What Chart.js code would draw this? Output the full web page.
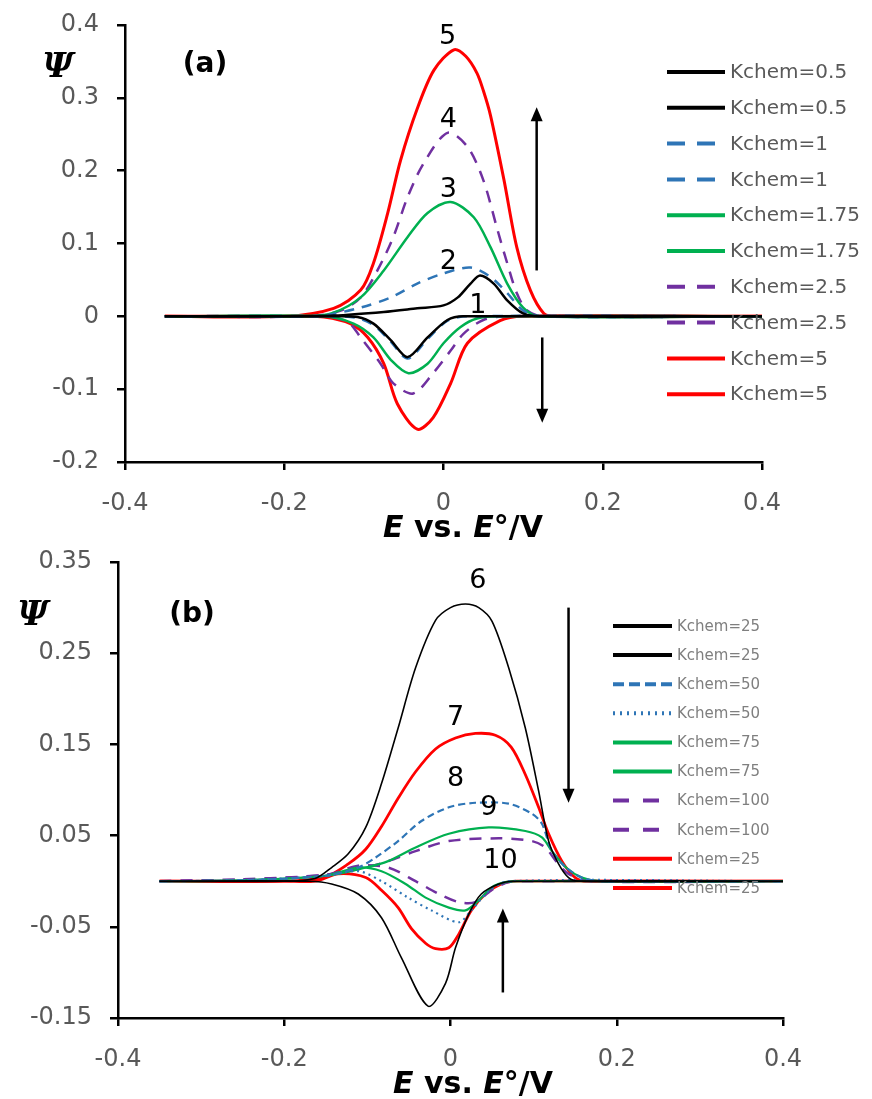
<!DOCTYPE html>
<html>
<head>
<meta charset="utf-8">
<script src="https://cdn.jsdelivr.net/npm/chart.js@4.4.1/dist/chart.umd.min.js"></script>
<style>
  body { margin: 0; background: #fff; }
  canvas { position: absolute; left: 0; }
  #chartA { top: 0; }
  #chartB { top: 540px; }
</style>
</head>
<body>
<canvas id="chartA" width="872" height="540"></canvas>
<canvas id="chartB" width="872" height="559"></canvas>
<script>
// ---- panel (a) data: E vs E°/V and Psi, forward and reverse scan for each Kchem
var a05fE = [-0.35, -0.2, -0.138, -0.075, -0.033, 0, 0.018, 0.034, 0.046, 0.063, 0.08, 0.1, 0.12, 0.4];
var a05fPsi = [0, 0, 0.001, 0.006, 0.011, 0.015, 0.026, 0.045, 0.056, 0.045, 0.022, 0.004, 0, 0];
var a05rE = [-0.35, -0.14, -0.108, -0.088, -0.066, -0.045, -0.02, 0.005, 0.025, 0.4];
var a05rPsi = [0, 0, -0.001, -0.01, -0.033, -0.056, -0.029, -0.005, 0, 0];

var a1fE = [-0.35, -0.16, -0.14, -0.104, -0.066, -0.033, 0, 0.034, 0.059, 0.08, 0.1, 0.12, 0.4];
var a1fPsi = [0, 0, 0.003, 0.012, 0.026, 0.045, 0.059, 0.067, 0.054, 0.032, 0.008, 0, 0];
var a1rE = [-0.35, -0.14, -0.11, -0.088, -0.066, -0.045, -0.02, 0.005, 0.03, 0.4];
var a1rPsi = [0, 0, -0.002, -0.012, -0.035, -0.058, -0.031, -0.006, 0, 0];

var a175fE = [-0.35, -0.17, -0.138, -0.104, -0.075, -0.045, -0.02, 0.009, 0.038, 0.059, 0.08, 0.1, 0.12, 0.4];
var a175fPsi = [0, 0, 0.005, 0.026, 0.063, 0.109, 0.142, 0.157, 0.136, 0.095, 0.045, 0.012, 0, 0];
var a175rE = [-0.35, -0.15, -0.113, -0.088, -0.066, -0.044, -0.02, 0, 0.021, 0.042, 0.07, 0.4];
var a175rPsi = [0, 0, -0.01, -0.029, -0.06, -0.078, -0.065, -0.037, -0.015, -0.003, 0, 0];

var a25fE = [-0.35, -0.17, -0.129, -0.104, -0.083, -0.063, -0.045, -0.025, 0.005, 0.03, 0.05, 0.068, 0.08, 0.092, 0.105, 0.125, 0.4];
var a25fPsi = [0, 0, 0.008, 0.026, 0.063, 0.109, 0.164, 0.21, 0.252, 0.233, 0.187, 0.118, 0.073, 0.032, 0.008, 0, 0];
var a25rE = [-0.35, -0.15, -0.12, -0.104, -0.079, -0.063, -0.038, -0.013, 0.009, 0.025, 0.05, 0.08, 0.4];
var a25rPsi = [0, 0, -0.008, -0.029, -0.065, -0.092, -0.106, -0.078, -0.047, -0.024, -0.005, 0, 0];

var a5fE = [-0.35, -0.2, -0.138, -0.104, -0.088, -0.07, -0.054, -0.033, -0.012, 0.013, 0.028, 0.042, 0.05, 0.059, 0.076, 0.092, 0.109, 0.126, 0.14, 0.4];
var a5fPsi = [0, 0, 0.011, 0.036, 0.073, 0.142, 0.214, 0.285, 0.338, 0.366, 0.357, 0.334, 0.31, 0.276, 0.187, 0.095, 0.036, 0.004, 0, 0];
var a5rE = [-0.35, -0.18, -0.15, -0.117, -0.095, -0.075, -0.058, -0.033, -0.013, 0.009, 0.03, 0.071, 0.1, 0.4];
var a5rPsi = [0, 0, -0.001, -0.01, -0.029, -0.065, -0.12, -0.155, -0.139, -0.092, -0.037, -0.006, 0, 0];

var labelsA = ['Kchem=0.5', 'Kchem=0.5', 'Kchem=1', 'Kchem=1', 'Kchem=1.75', 'Kchem=1.75', 'Kchem=2.5', 'Kchem=2.5', 'Kchem=5', 'Kchem=5'];

// ---- panel (b) data
var b25fE = [-0.35, -0.2, -0.163, -0.143, -0.123, -0.102, -0.083, -0.063, -0.042, -0.018, 0, 0.018, 0.034, 0.05, 0.07, 0.09, 0.106, 0.118, 0.13, 0.142, 0.155, 0.4];
var b25fPsi = [0, 0, 0.003, 0.015, 0.03, 0.059, 0.107, 0.168, 0.234, 0.286, 0.3, 0.304, 0.3, 0.285, 0.234, 0.168, 0.099, 0.044, 0.019, 0.004, 0, 0];
var b25rE = [-0.35, -0.17, -0.143, -0.111, -0.083, -0.059, -0.027, -0.006, 0.006, 0.022, 0.037, 0.058, 0.075, 0.4];
var b25rPsi = [0, 0, -0.003, -0.014, -0.04, -0.084, -0.137, -0.112, -0.073, -0.036, -0.014, -0.003, 0, 0];

var b50fE = [-0.35, -0.25, -0.15, -0.111, -0.09, -0.063, -0.035, -0.002, 0.03, 0.07, 0.098, 0.11, 0.122, 0.139, 0.158, 0.18, 0.4];
var b50fPsi = [0, 0.001, 0.006, 0.015, 0.026, 0.044, 0.066, 0.081, 0.086, 0.085, 0.074, 0.063, 0.033, 0.015, 0.004, 0, 0];
var b50rE = [-0.35, -0.25, -0.15, -0.111, -0.083, -0.051, -0.023, 0.01, 0.025, 0.046, 0.07, 0.4];
var b50rPsi = [0, 0.001, 0.006, 0.011, 0, -0.018, -0.032, -0.045, -0.032, -0.011, 0, 0];

var b75fE = [-0.35, -0.25, -0.15, -0.102, -0.075, -0.042, -0.002, 0.046, 0.09, 0.11, 0.122, 0.139, 0.158, 0.18, 0.4];
var b75fPsi = [0, 0.001, 0.006, 0.015, 0.022, 0.037, 0.052, 0.059, 0.055, 0.048, 0.033, 0.015, 0.004, 0, 0];
var b75rE = [-0.35, -0.25, -0.15, -0.111, -0.083, -0.054, -0.03, -0.002, 0.018, 0.034, 0.049, 0.066, 0.09, 0.4];
var b75rPsi = [0, 0.001, 0.006, 0.015, 0.011, -0.003, -0.018, -0.029, -0.032, -0.021, -0.007, -0.001, 0, 0];

var b100fE = [-0.35, -0.25, -0.15, -0.102, -0.075, -0.042, -0.002, 0.058, 0.098, 0.114, 0.127, 0.142, 0.17, 0.4];
var b100fPsi = [0, 0.002, 0.007, 0.015, 0.022, 0.033, 0.044, 0.047, 0.044, 0.037, 0.022, 0.008, 0, 0];
var b100rE = [-0.35, -0.25, -0.15, -0.111, -0.075, -0.042, -0.014, 0.01, 0.03, 0.049, 0.07, 0.09, 0.4];
var b100rPsi = [0, 0.002, 0.007, 0.017, 0.015, 0, -0.014, -0.023, -0.023, -0.01, -0.001, 0, 0];

var b25redfE = [-0.35, -0.2, -0.15, -0.123, -0.102, -0.083, -0.063, -0.042, -0.018, 0.006, 0.03, 0.054, 0.073, 0.09, 0.106, 0.118, 0.134, 0.15, 0.165, 0.4];
var b25redfPsi = [0, 0, 0.005, 0.019, 0.035, 0.06, 0.091, 0.12, 0.145, 0.157, 0.162, 0.16, 0.147, 0.117, 0.081, 0.052, 0.022, 0.004, 0, 0];
var b25redrE = [-0.35, -0.2, -0.163, -0.135, -0.102, -0.083, -0.063, -0.047, -0.03, -0.018, -0.002, 0.01, 0.025, 0.042, 0.061, 0.08, 0.4];
var b25redrPsi = [0, 0, 0, 0.008, 0.004, -0.01, -0.029, -0.052, -0.068, -0.074, -0.073, -0.058, -0.032, -0.014, -0.003, 0, 0];

var labelsB = ['Kchem=25', 'Kchem=25', 'Kchem=50', 'Kchem=50', 'Kchem=75', 'Kchem=75', 'Kchem=100', 'Kchem=100', 'Kchem=25', 'Kchem=25'];

// axis ticks
var xTicks = [-0.4, -0.2, 0, 0.2, 0.4];
var yTicksA = [-0.2, -0.1, 0, 0.1, 0.2, 0.3, 0.4];
var yTicksB = [-0.15, -0.05, 0.05, 0.15, 0.25, 0.35];

// curve numbers (1..10) and arrows, placed in data units
var curveNumsA = [['5', 0.005, 0.384], ['4', 0.006, 0.27], ['3', 0.006, 0.173], ['2', 0.006, 0.074], ['1', 0.043, 0.014]];
var curveNumsB = [['6', 0.033, 0.329], ['7', 0.006, 0.179], ['8', 0.006, 0.112], ['9', 0.046, 0.08], ['10', 0.06, 0.022]];
var arrowsA = [[0.117, 0.063, 0.287], [0.124, -0.029, -0.146]];   // x, from y, to y (head at "to")
var arrowsB = [[0.142, 0.30, 0.086], [0.063, -0.122, -0.030]];

var RED = '#ff0000', GREEN = '#00b050', PURPLE = '#7030a0', BLUE = '#2e75b6', BLACK = '#000000';

function pts(xs, ys) {
  var out = [];
  for (var i = 0; i < xs.length; i++) out.push({x: xs[i], y: ys[i]});
  return out;
}

function ds(label, xs, ys, color, width, dash, legDash) {
  return {
    label: label,
    data: pts(xs, ys),
    borderColor: color,
    backgroundColor: color,
    borderWidth: width,
    borderDash: dash || [],
    legendDash: legDash || [],
    showLine: true,
    pointRadius: 0,
    tension: 0.3,
    fill: false
  };
}

var dsA = [
  ds(labelsA[0], a05fE, a05fPsi, BLACK, 2.5),
  ds(labelsA[1], a05rE, a05rPsi, BLACK, 2.5),
  ds(labelsA[2], a1fE, a1fPsi, BLUE, 2.5, [10, 8], [18, 12]),
  ds(labelsA[3], a1rE, a1rPsi, BLUE, 2.5, [10, 8], [18, 12]),
  ds(labelsA[4], a175fE, a175fPsi, GREEN, 2.5),
  ds(labelsA[5], a175rE, a175rPsi, GREEN, 2.5),
  ds(labelsA[6], a25fE, a25fPsi, PURPLE, 2.5, [12, 9], [18, 12]),
  ds(labelsA[7], a25rE, a25rPsi, PURPLE, 2.5, [12, 9], [18, 12]),
  ds(labelsA[8], a5fE, a5fPsi, RED, 3),
  ds(labelsA[9], a5rE, a5rPsi, RED, 3)
];

var dsB = [
  ds(labelsB[0], b25fE, b25fPsi, BLACK, 1.6),
  ds(labelsB[1], b25rE, b25rPsi, BLACK, 1.6),
  ds(labelsB[2], b50fE, b50fPsi, BLUE, 2.2, [7, 4], [11, 5]),
  ds(labelsB[3], b50rE, b50rPsi, BLUE, 2.2, [2, 4], [2, 5]),
  ds(labelsB[4], b75fE, b75fPsi, GREEN, 2.2),
  ds(labelsB[5], b75rE, b75rPsi, GREEN, 2.2),
  ds(labelsB[6], b100fE, b100fPsi, PURPLE, 2.5, [12, 9], [16, 14]),
  ds(labelsB[7], b100rE, b100rPsi, PURPLE, 2.5, [12, 9], [16, 14]),
  ds(labelsB[8], b25redfE, b25redfPsi, RED, 2.8),
  ds(labelsB[9], b25redrE, b25redrPsi, RED, 2.8)
];

// draws legend, Ψ, panel letter, curve numbers, arrows and the x title
var decor = {
  id: 'decor',
  afterDraw: function(chart, args, o) {
    var ctx = chart.ctx, sx = chart.scales.x, sy = chart.scales.y;
    ctx.save();
    // legend
    ctx.font = o.legendFont;
    ctx.textBaseline = 'middle';
    ctx.textAlign = 'left';
    chart.data.datasets.forEach(function(d, i) {
      var y = o.legY + i * o.legStep;
      ctx.beginPath();
      ctx.setLineDash(d.legendDash);
      ctx.lineWidth = 4;
      ctx.strokeStyle = d.borderColor;
      ctx.moveTo(o.legX1, y);
      ctx.lineTo(o.legX2, y);
      ctx.stroke();
      ctx.setLineDash([]);
      ctx.fillStyle = o.legColor;
      ctx.fillText(d.label, o.legX2 + 5, y + 1);
    });
    // Ψ and panel letter
    ctx.fillStyle = '#000';
    ctx.textAlign = 'center';
    ctx.font = 'bold italic 34px "DejaVu Serif"';
    ctx.fillText('Ψ', o.psi[0], o.psi[1]);
    ctx.font = 'bold 28px "DejaVu Sans"';
    ctx.fillText(o.panel, o.panelPos[0], o.panelPos[1]);
    // curve numbers
    ctx.font = '27px "DejaVu Sans"';
    o.nums.forEach(function(n) {
      ctx.fillText(n[0], sx.getPixelForValue(n[1]), sy.getPixelForValue(n[2]));
    });
    // arrows
    ctx.strokeStyle = '#000';
    ctx.fillStyle = '#000';
    ctx.lineWidth = 2.5;
    o.arrows.forEach(function(a) {
      var x = sx.getPixelForValue(a[0]), y0 = sy.getPixelForValue(a[1]), y1 = sy.getPixelForValue(a[2]);
      var dir = y1 < y0 ? -1 : 1;
      ctx.beginPath();
      ctx.moveTo(x, y0);
      ctx.lineTo(x, y1 - dir * 10);
      ctx.stroke();
      ctx.beginPath();
      ctx.moveTo(x, y1);
      ctx.lineTo(x - 6, y1 - dir * 14);
      ctx.lineTo(x + 6, y1 - dir * 14);
      ctx.closePath();
      ctx.fill();
    });
    // x axis title: E vs. E°/V
    var parts = [['E', 'bold italic'], [' vs. ', 'bold'], ['E', 'bold italic'], ['°/V', 'bold']];
    var total = 0;
    parts.forEach(function(p) { ctx.font = p[1] + ' 30px "DejaVu Sans"'; total += ctx.measureText(p[0]).width; });
    var xx = o.titleX - total / 2;
    ctx.textAlign = 'left';
    ctx.textBaseline = 'alphabetic';
    parts.forEach(function(p) {
      ctx.font = p[1] + ' 30px "DejaVu Sans"';
      ctx.fillText(p[0], xx, o.titleY);
      xx += ctx.measureText(p[0]).width;
    });
    ctx.restore();
  }
};

function fmt(v) { return String(+v.toFixed(2)); }

function makeChart(id, datasets, yMin, yMax, box, extra) {
  return new Chart(document.getElementById(id), {
    type: 'scatter',
    data: {datasets: datasets},
    options: {
      responsive: false,
      animation: false,
      devicePixelRatio: 1,
      layout: {padding: {top: box.top, right: box.right, left: 0, bottom: 0}},
      plugins: {legend: {display: false}, tooltip: {enabled: false}, decor: extra},
      scales: {
        x: {
          type: 'linear', min: xTicks[0], max: xTicks[xTicks.length - 1],
          afterBuildTicks: function(s) { s.ticks = xTicks.map(function(v) { return {value: v}; }); },
          afterFit: function(s) { s.height = box.xh; },
          ticks: {callback: fmt, color: '#595959', font: {family: 'DejaVu Sans', size: 24}, padding: 19, maxRotation: 0},
          grid: {drawOnChartArea: false, tickLength: 8, color: '#000', lineWidth: 2.5},
          border: {color: '#000', width: 2.5}
        },
        y: {
          type: 'linear', min: yMin, max: yMax,
          afterBuildTicks: function(s) { s.ticks = extra.yTicks.map(function(v) { return {value: v}; }); },
          afterFit: function(s) { s.width = box.yw; },
          // small lineHeight keeps the label padding from pushing the plot top down
          ticks: {callback: fmt, color: '#595959', font: {family: 'DejaVu Sans', size: 24, lineHeight: 0.2}, padding: 18},
          grid: {drawOnChartArea: false, tickLength: 8, color: '#000', lineWidth: 2.5},
          border: {color: '#000', width: 2.5}
        }
      }
    },
    plugins: [decor]
  });
}

makeChart('chartA', dsA, -0.2, 0.4,
  {top: 25, right: 110, xh: 78, yw: 125},
  {yTicks: yTicksA, legendFont: '20px "DejaVu Sans"', legColor: '#595959', legX1: 667, legX2: 725, legY: 72, legStep: 35.8,
   psi: [58, 68], panel: '(a)', panelPos: [205, 65], nums: curveNumsA, arrows: arrowsA, titleX: 463, titleY: 537});

makeChart('chartB', dsB, -0.15, 0.35,
  {top: 22, right: 89, xh: 81, yw: 118},
  {yTicks: yTicksB, legendFont: '15px "DejaVu Sans"', legColor: '#7f7f7f', legX1: 613, legX2: 672, legY: 86, legStep: 29.1,
   psi: [33, 76], panel: '(b)', panelPos: [192, 75], nums: curveNumsB, arrows: arrowsB, titleX: 473, titleY: 553});
</script>
</body>
</html>
